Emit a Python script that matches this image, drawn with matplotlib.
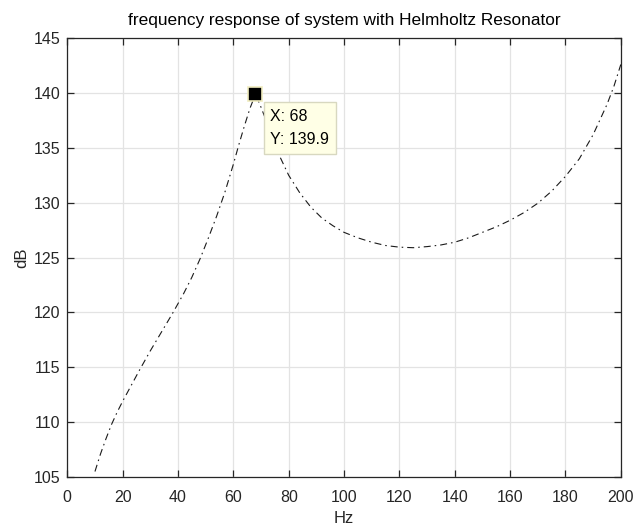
import matplotlib
matplotlib.use("Agg")
import matplotlib.pyplot as plt

plt.rcParams['font.family'] = ['Liberation Sans', 'DejaVu Sans']

freq_hz = [10, 12, 14, 16, 18, 20, 23, 26, 30, 34, 38, 42, 45, 48, 51, 54, 57, 60, 62, 64,
           66, 68, 70, 72, 74, 77, 80, 84, 88, 92, 96, 100, 105, 110, 115, 120, 125, 130,
           135, 140, 145, 150, 155, 160, 165, 170, 175, 180, 185, 190, 195, 197.5, 200]
level_db = [105.5, 107.1, 108.5, 109.8, 110.9, 111.9, 113.3, 114.7, 116.5, 118.2, 119.9,
            121.7, 123.2, 124.9, 126.8, 128.8, 131.0, 133.5, 135.3, 137.0, 138.6, 139.9,
            138.7, 137.4, 136.0, 134.1, 132.5, 130.9, 129.6, 128.6, 127.9, 127.3, 126.8,
            126.4, 126.1, 125.95, 125.9, 126.0, 126.15, 126.4, 126.8, 127.3, 127.8, 128.4,
            129.1, 129.95, 131.05, 132.4, 134.0, 136.2, 138.95, 140.6, 142.6]
peak_x = 68
peak_y = 139.9
x_ticks = [0, 20, 40, 60, 80, 100, 120, 140, 160, 180, 200]
y_ticks = [105, 110, 115, 120, 125, 130, 135, 140, 145]

fig = plt.figure(figsize=(6.36, 5.30), dpi=100)
ax = fig.add_axes([0.1058, 0.1, 0.8703, 0.828])

ax.plot(freq_hz, level_db, color='#1a1a1a', linestyle=(0, (6.3, 3.6, 1.4, 3.6)),
        linewidth=0.8, zorder=3)
ax.plot([peak_x], [peak_y], marker='s', markersize=9.5, markerfacecolor='black',
        markeredgecolor='#f0ecc0', markeredgewidth=1.2, linestyle='none', zorder=6)
ax.annotate(f"X: {peak_x}\nY: {peak_y}", xy=(peak_x, peak_y), xytext=(15, -15),
            textcoords='offset pixels', ha='left', va='top', fontsize=11.5,
            linespacing=1.65, color='black', zorder=5,
            bbox=dict(boxstyle='square,pad=0.42', facecolor='#ffffe6',
                      edgecolor='#d8d8c0', linewidth=1.0))

ax.set_xlim(0, 200)
ax.set_ylim(105, 145)
ax.set_xticks(x_ticks)
ax.set_yticks(y_ticks)
ax.grid(True, color='#e3e3e3', linewidth=0.9, zorder=0)
ax.set_axisbelow(True)
ax.tick_params(direction='in', length=5, width=0.9, top=True, right=True,
               labelsize=11.5, colors='#262626')
ax.tick_params(axis='x', pad=9)
ax.tick_params(axis='y', pad=5)
for s in ax.spines.values():
    s.set_color('#262626')
    s.set_linewidth(0.9)

ax.set_title('frequency response of system with Helmholtz Resonator', fontsize=12.4,
             color='black', pad=9.5)
ax.set_xlabel('Hz', fontsize=12, color='#262626', labelpad=5)
ax.set_ylabel('dB', fontsize=12, color='#262626', labelpad=3)

fig.savefig('out.png', dpi=100)
